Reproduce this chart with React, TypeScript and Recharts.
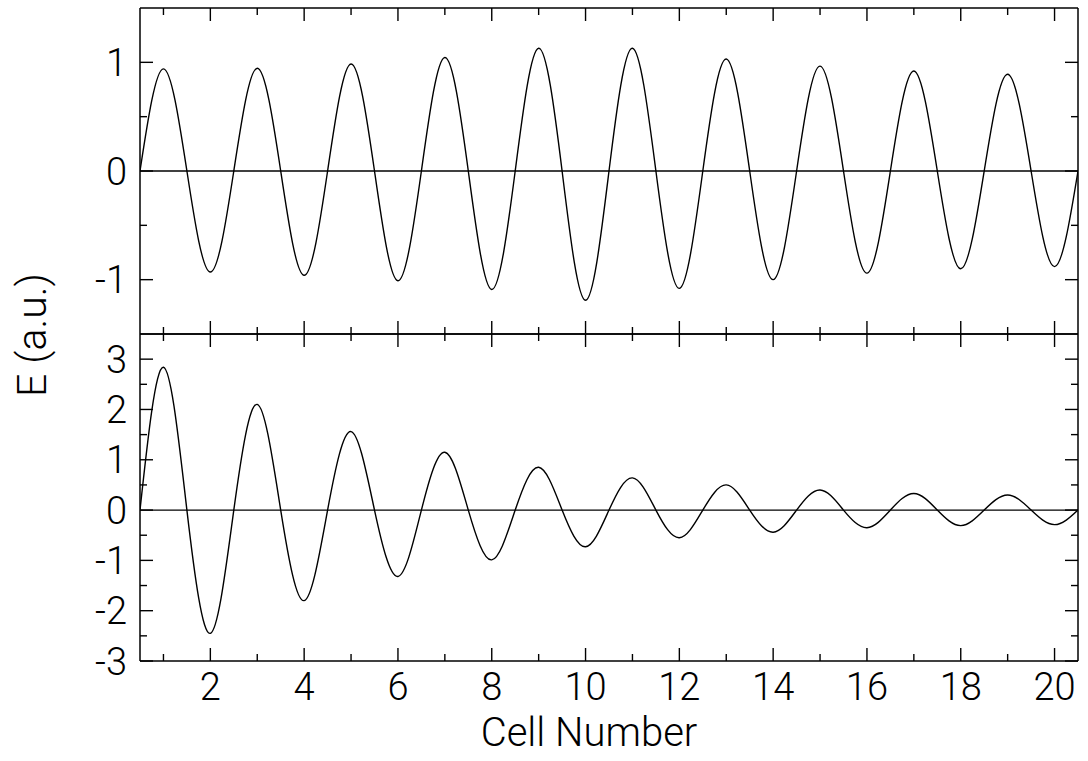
import React from "react";
import { LineChart, Line, XAxis, YAxis, ReferenceLine } from "recharts";

// zero crossings sit on the half cells, extrema on the whole cells
const crossings = [
  0.5, 1.5, 2.5, 3.5, 4.5, 5.5, 6.5, 7.5, 8.5, 9.5, 10.5, 11.5, 12.5, 13.5,
  14.5, 15.5, 16.5, 17.5, 18.5, 19.5, 20.5,
];
const cells = [1, 2, 3, 4, 5, 6, 7, 8, 9, 10, 11, 12, 13, 14, 15, 16, 17, 18, 19, 20];

const topField = [
  0.94, -0.93, 0.945, -0.96, 0.985, -1.01, 1.045, -1.09, 1.13, -1.19, 1.13,
  -1.08, 1.03, -1.0, 0.965, -0.94, 0.92, -0.9, 0.89, -0.88,
];
const bottomField = [
  2.84, -2.45, 2.1, -1.8, 1.56, -1.32, 1.15, -0.99, 0.85, -0.73, 0.64, -0.55,
  0.5, -0.44, 0.4, -0.35, 0.33, -0.31, 0.3, -0.29,
];

const xTicks = cells;
const topYTicks = [-1, -0.5, 0, 0.5, 1];
const bottomYTicks = [-3, -2.5, -2, -1.5, -1, -0.5, 0, 0.5, 1, 1.5, 2, 2.5, 3];

const FONT = "Roboto, 'Helvetica Neue', Helvetica, Arial, sans-serif";
const MAJOR = 13;
const MINOR = 7;
const INK = "#000";

function buildRows(values: number[]) {
  const rows = crossings.map((x) => ({ x, e: 0 }));
  cells.forEach((c, i) => rows.push({ x: c, e: values[i] }));
  return rows.sort((a, b) => a.x - b.x);
}

const topRows = buildRows(topField);
const bottomRows = buildRows(bottomField);

type Side = "bottom" | "top" | "left" | "right";

function makeTick(side: Side, showLabel: boolean, isMajor: (v: number) => boolean) {
  return (props: any) => {
    const { x, y, payload } = props;
    const v = payload.value;
    const major = isMajor(v);
    const len = major ? MAJOR : MINOR;
    let x2 = x;
    let y2 = y;
    if (side === "bottom") y2 = y - len;
    if (side === "top") y2 = y + len;
    if (side === "left") x2 = x + len;
    if (side === "right") x2 = x - len;
    let label = null;
    if (showLabel && major) {
      if (side === "bottom") {
        label = (
          <text x={x} y={y + 39} textAnchor="middle" fontSize={38} fontFamily={FONT} fontWeight={300} fill={INK}>
            {String(v)}
          </text>
        );
      } else if (side === "left") {
        label = (
          <text x={x - 13} y={y + 13.5} textAnchor="end" fontSize={38} fontFamily={FONT} fontWeight={300} fill={INK}>
            {String(v)}
          </text>
        );
      }
    }
    return (
      <g key={`${side}-${v}`}>
        <line x1={x} y1={y} x2={x2} y2={y2} stroke={INK} strokeWidth={1.4} />
        {label}
      </g>
    );
  };
}

const evenX = (v: number) => v % 2 === 0;
const wholeY = (v: number) => Number.isInteger(v);

function Panel({
  rows,
  yDomain,
  yTicks,
  height,
  margin,
  xLabels,
}: {
  rows: { x: number; e: number }[];
  yDomain: [number, number];
  yTicks: number[];
  height: number;
  margin: { top: number; right: number; bottom: number; left: number };
  xLabels: boolean;
}) {
  const axisLine = { stroke: INK, strokeWidth: 1.5 };
  return (
    <LineChart width={1088} height={height} data={rows} margin={margin}>
      <XAxis
        xAxisId="b"
        dataKey="x"
        type="number"
        domain={[0.5, 20.5]}
        ticks={xTicks}
        interval={0}
        height={1}
        tickSize={0}
        tickMargin={0}
        tickLine={false}
        axisLine={axisLine}
        tick={makeTick("bottom", xLabels, evenX)}
        allowDataOverflow
      />
      <XAxis
        xAxisId="t"
        orientation="top"
        dataKey="x"
        type="number"
        domain={[0.5, 20.5]}
        ticks={xTicks}
        interval={0}
        height={1}
        tickSize={0}
        tickMargin={0}
        tickLine={false}
        axisLine={axisLine}
        tick={makeTick("top", false, evenX)}
        allowDataOverflow
      />
      <YAxis
        yAxisId="l"
        type="number"
        domain={yDomain}
        ticks={yTicks}
        interval={0}
        width={1}
        tickSize={0}
        tickMargin={0}
        tickLine={false}
        axisLine={axisLine}
        tick={makeTick("left", true, wholeY)}
        allowDataOverflow
      />
      <YAxis
        yAxisId="r"
        orientation="right"
        type="number"
        domain={yDomain}
        ticks={yTicks}
        interval={0}
        width={1}
        tickSize={0}
        tickMargin={0}
        tickLine={false}
        axisLine={axisLine}
        tick={makeTick("right", false, wholeY)}
        allowDataOverflow
      />
      <ReferenceLine xAxisId="b" yAxisId="l" y={0} stroke={INK} strokeWidth={1.4} />
      <Line
        xAxisId="b"
        yAxisId="l"
        dataKey="e"
        type="natural"
        stroke={INK}
        strokeWidth={1.4}
        dot={false}
        activeDot={false}
        isAnimationActive={false}
      />
      <Line
        xAxisId="t"
        yAxisId="r"
        dataKey="e"
        type="natural"
        stroke="none"
        dot={false}
        activeDot={false}
        isAnimationActive={false}
      />
    </LineChart>
  );
}

export default function App() {
  return (
    <div style={{ position: "absolute", left: 0, top: 0, width: 1088, height: 761, background: "#fff" }}>
      <div style={{ position: "absolute", left: 0, top: 0 }}>
        <Panel
          rows={topRows}
          yDomain={[-1.5, 1.5]}
          yTicks={topYTicks}
          height={346}
          margin={{ top: 7, right: 9, bottom: 11, left: 139 }}
          xLabels={false}
        />
      </div>
      <div style={{ position: "absolute", left: 0, top: 300 }}>
        <Panel
          rows={bottomRows}
          yDomain={[-3, 3.5]}
          yTicks={bottomYTicks}
          height={461}
          margin={{ top: 33, right: 9, bottom: 99, left: 139 }}
          xLabels={true}
        />
      </div>
      <svg
        width={1088}
        height={761}
        style={{ position: "absolute", left: 0, top: 0, pointerEvents: "none" }}
      >
        <text
          x={589}
          y={746}
          textAnchor="middle"
          fontSize={40}
          fontFamily={FONT}
          fontWeight={300}
          fill={INK}
        >
          Cell Number
        </text>
        <text
          transform="translate(46, 335) rotate(-90)"
          textAnchor="middle"
          fontSize={41}
          fontFamily={FONT}
          fontWeight={300}
          fill={INK}
        >
          E (a.u.)
        </text>
      </svg>
    </div>
  );
}
